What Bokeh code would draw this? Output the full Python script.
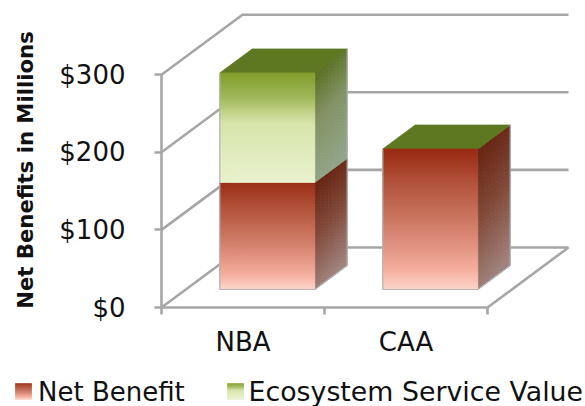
from bokeh.core.properties import value
from bokeh.embed import file_html
from bokeh.models import FixedTicker, LinearAxis, Range1d
from bokeh.plotting import figure
from bokeh.resources import INLINE

categories = ["NBA", "CAA"]
net_benefit = [138, 181]
ecosystem_value = [141, 0]
y_ticks = [0, 100, 200, 300]
y_tick_labels = ["$0", "$100", "$200", "$300"]

# Pixel scale of the plot
PX_X = 163.0      # pixels per category
PX_Y = 0.776      # pixels per dollar-million
ORIGIN_X, ORIGIN_Y = 161.0, 307.0
W, H = 585, 406

def dx(px):
    return (px - ORIGIN_X) / PX_X

def dy(py):
    return (ORIGIN_Y - py) / PX_Y

# Oblique projection: depth 1 is the back wall
DEPTH_X = 81.0 / PX_X
DEPTH_Y = 60.0 / PX_Y
BAR_WIDTH = 95.0 / PX_X
BAR_NEAR, BAR_FAR = 0.30, 0.70

def proj(x, y, d):
    return x + d * DEPTH_X, y + d * DEPTH_Y

def lerp(stops, t):
    for (t0, c0), (t1, c1) in zip(stops, stops[1:]):
        if t <= t1:
            k = (t - t0) / (t1 - t0)
            return tuple(a + (b - a) * k for a, b in zip(c0, c1))
    return stops[-1][1]

def to_hex(c):
    return "#%02x%02x%02x" % tuple(int(round(v)) for v in c)

RED_FRONT = [(0, (154, 44, 20)), (0.25, (178, 82, 58)), (0.55, (208, 124, 104)),
             (0.85, (244, 172, 154)), (1, (251, 214, 204))]
GREEN_FRONT = [(0, (132, 158, 46)), (0.22, (160, 184, 90)), (0.45, (214, 228, 168)),
               (1, (233, 241, 206))]
RED_SIDE = [(0, (104, 38, 20)), (0.45, (128, 72, 56)), (1, (160, 130, 124))]
GREEN_SIDE = [(0, (92, 114, 38)), (0.4, (130, 146, 100)), (1, (146, 164, 136))]
GREEN_TOP = (94, 120, 34)

p = figure(width=W, height=H, output_backend="svg", toolbar_location=None,
           x_range=Range1d(dx(0), dx(W)), y_range=Range1d(dy(H), dy(0)),
           x_axis_type=None, y_axis_type=None, min_border=0,
           outline_line_color=None, background_fill_color="white")
p.grid.visible = False

GREY = "#a6a6a6"
n_cat = len(categories)
top = max(y_ticks)
right_end = dx(568)

# Wall gridlines and floor
wall_xs, wall_ys = [], []
for t in y_ticks:
    bx, by = proj(0, t, 1)
    wall_xs.append([0, bx, right_end])
    wall_ys.append([t, by, by])
fx, fy = proj(n_cat, 0, 1)
wall_xs.append([right_end, n_cat])
wall_ys.append([fy, 0])
p.multi_line(wall_xs, wall_ys, line_color=GREY, line_width=2.6, line_join="miter")

def side_face(xl, y0, y1, stops):
    """Shaded side panel, darker toward the upper left."""
    cols, rows = 8, 36
    xs, ys, colors = [], [], []
    for i in range(cols):
        for j in range(rows):
            d0 = BAR_NEAR + (BAR_FAR - BAR_NEAR) * i / cols
            d1 = BAR_NEAR + (BAR_FAR - BAR_NEAR) * (i + 1) / cols
            v0, v1 = y1 - (y1 - y0) * j / rows, y1 - (y1 - y0) * (j + 1) / rows
            a = proj(xl, v0, d0)
            b = proj(xl, v0, d1)
            c = proj(xl, v1, d1)
            e = proj(xl, v1, d0)
            xs.append([a[0], b[0], c[0], e[0]])
            ys.append([a[1], b[1], c[1], e[1]])
            t = (j + 0.5) / rows
            t = min(1, max(0, t + 0.12 * ((i + 0.5) / cols - 0.5)))
            colors.append(to_hex(lerp(stops, t)))
    p.patches(xs, ys, fill_color=colors, line_color=colors, line_width=0.8)

def front_face(xl, xr, y0, y1, stops, d=BAR_NEAR):
    rows = max(2, int((y1 - y0) * PX_Y))
    l, b0 = proj(xl, y0, d)
    r, _ = proj(xr, y0, d)
    bottoms = [b0 + (y1 - y0) * j / rows for j in range(rows)]
    tops = [b + (y1 - y0) / rows for b in bottoms]
    colors = [to_hex(lerp(stops, 1 - (j + 0.5) / rows)) for j in range(rows)]
    p.quad(left=l, right=r, bottom=bottoms, top=tops, fill_color=colors,
           line_color=colors, line_width=0.8)

EDGE = "#b4b4b4"
for i, cat in enumerate(categories):
    xl = i + 0.5 - BAR_WIDTH / 2
    xr = i + 0.5 + BAR_WIDTH / 2
    low = net_benefit[i]
    total = low + ecosystem_value[i]

    # Side faces
    side_face(xr, 0, low, RED_SIDE)
    if ecosystem_value[i] > 0:
        side_face(xr, low, total, GREEN_SIDE)

    # Top face takes the colour of the last stacked series
    corners = [proj(xl, total, BAR_NEAR), proj(xr, total, BAR_NEAR),
               proj(xr, total, BAR_FAR), proj(xl, total, BAR_FAR)]
    p.patch([c[0] for c in corners], [c[1] for c in corners],
            fill_color=to_hex(GREEN_TOP), line_color=to_hex(GREEN_TOP), line_width=0.8)

    # Front faces
    front_face(xl, xr, 0, low, RED_FRONT)
    if ecosystem_value[i] > 0:
        front_face(xl, xr, low, total, GREEN_FRONT)

    # Pale outline of the bar
    a = proj(xl, 0, BAR_NEAR)
    b = proj(xr, 0, BAR_NEAR)
    c = proj(xr, total, BAR_NEAR)
    e = proj(xl, total, BAR_NEAR)
    f = proj(xr, 0, BAR_FAR)
    g = proj(xr, total, BAR_FAR)
    p.line([e[0], a[0], b[0], f[0], g[0]], [e[1], a[1], b[1], f[1], g[1]],
           line_color=EDGE, line_width=1.2)

# Value axis
yaxis = LinearAxis(fixed_location=0, bounds=(0, top),
                   ticker=FixedTicker(ticks=y_ticks),
                   major_label_overrides=dict(zip(y_ticks, y_tick_labels)))
yaxis.axis_line_color = GREY
yaxis.axis_line_width = 2.6
yaxis.major_tick_line_color = GREY
yaxis.major_tick_line_width = 2.6
yaxis.major_tick_out = 7
yaxis.major_tick_in = 0
yaxis.minor_tick_line_color = None
yaxis.major_label_standoff = 29
yaxis.major_label_text_font = "DejaVu Sans"
yaxis.major_label_text_font_size = "26px"
yaxis.major_label_text_color = "#111111"
p.add_layout(yaxis, "left")

# Category axis: labels centred on a band, ticks on band edges
cat_pos = [i + 0.5 for i in range(n_cat)]
xaxis = LinearAxis(fixed_location=0, bounds=(0, n_cat),
                   ticker=FixedTicker(ticks=cat_pos, minor_ticks=list(range(n_cat + 1))),
                   major_label_overrides=dict(zip(cat_pos, categories)))
xaxis.axis_line_color = GREY
xaxis.axis_line_width = 2.6
xaxis.major_tick_line_color = None
xaxis.minor_tick_line_color = GREY
xaxis.minor_tick_line_width = 2.6
xaxis.minor_tick_out = 7
xaxis.minor_tick_in = 0
xaxis.major_tick_out = 7
xaxis.major_tick_in = 0
xaxis.major_label_standoff = 12
xaxis.major_label_text_font = "DejaVu Sans"
xaxis.major_label_text_font_size = "26px"
xaxis.major_label_text_color = "#111111"
p.add_layout(xaxis, "below")

# Axis title
p.text(x=[dx(25)], y=[dy(169.5)], text=["Net Benefits in Millions"], angle=1.5708,
       text_font=value("DejaVu Sans"), text_font_style="bold",
       text_font_size="21.2px", text_align="center", text_baseline="middle",
       text_color="#111111")

# Legend
def swatch(x0, x1, y0, y1, stops):
    rows = int(y1 - y0)
    tops = [dy(y0 + j) for j in range(rows)]
    bottoms = [dy(y0 + j + 1) for j in range(rows)]
    colors = [to_hex(lerp(stops, (j + 0.5) / rows)) for j in range(rows)]
    p.quad(left=dx(x0), right=dx(x1), top=tops, bottom=bottoms, fill_color=colors,
           line_color=colors, line_width=0.6)

swatch(15, 31, 383, 399, RED_FRONT)
swatch(227, 243, 383, 399, GREEN_FRONT)
p.text(x=[dx(37.5)], y=[dy(391)], text=["Net Benefit"],
       text_font=value("DejaVu Sans"), text_font_size="26px",
       text_align="left", text_baseline="middle", text_color="#111111")
p.text(x=[dx(248)], y=[dy(391)], text=["Ecosystem Service Value"],
       text_font=value("DejaVu Sans"), text_font_size="26.8px",
       text_align="left", text_baseline="middle", text_color="#111111")

open("out.html", "w").write(file_html(p, INLINE))
